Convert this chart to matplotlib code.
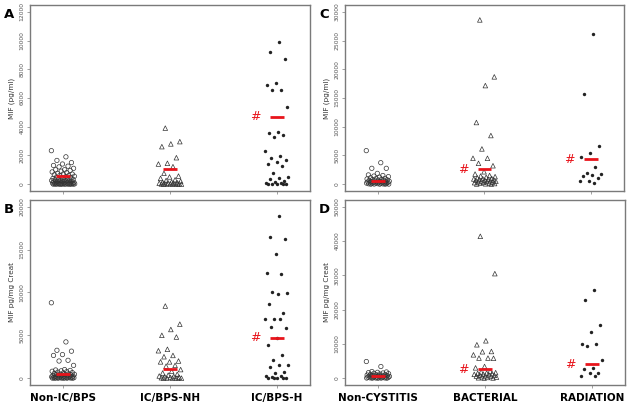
import matplotlib
matplotlib.use("Agg")
import matplotlib.pyplot as plt
import numpy as np

# ---- data (values per group) ----
top_groups = ["Non-IC/BPS", "IC/BPS-NH", "IC/BPS-H"]
bot_groups = ["Non-CYSTITIS", "BACTERIAL", "RADIATION"]

# A: MIF (pg/ml), IC/BPS cohorts
a_non = [2330, 1900, 1650, 1500, 1400, 1300, 1250, 1200, 1100, 1000, 1000, 950,
         900, 850, 800, 750, 700, 700, 650, 600, 600, 550, 500, 480, 450, 420,
         400, 380, 350, 330, 300, 300, 280, 250, 250, 220, 200, 200, 180, 160,
         150, 150, 130, 120, 100, 100, 90, 80, 70, 60, 50, 50, 40, 30, 20, 20,
         10, 10, 5, 5, 0, 0, 0, 0, 0, 0, 0, 0]
a_nh = [3900, 2960, 2800, 2610, 1840, 1450, 1400, 1215, 750, 560, 500, 400,
        300, 250, 200, 150, 120, 100, 80, 60, 50, 40, 30, 20, 10, 10, 0, 0,
        0, 0, 0]
a_h = [9900, 9180, 8700, 7030, 6890, 6560, 6540, 5390, 3660, 3570, 3430, 3250,
       2330, 1980, 1800, 1680, 1560, 1380, 1260, 750, 500, 450, 350, 250, 120,
       100, 60, 40, 20, 10, 0, 0]
a_bar = [560, 1050, 4710]

# B: MIF pg/mg Creat, IC/BPS cohorts
b_non = [8800, 4230, 3250, 3150, 2750, 2650, 2080, 2000, 1490, 1000, 950, 900,
         850, 800, 750, 700, 650, 600, 550, 500, 480, 450, 420, 400, 380, 350,
         320, 300, 280, 250, 230, 200, 180, 160, 150, 130, 120, 100, 90, 80, 70,
         60, 50, 40, 30, 20, 10, 5, 0, 0, 0, 0, 0]
b_nh = [8420, 6300, 5680, 5000, 4800, 3370, 3200, 2650, 2500, 2000, 1900, 1900,
        1490, 1400, 1000, 800, 600, 450, 350, 250, 200, 150, 100, 80, 50, 30, 10,
        0, 0, 0, 0]
b_h = [18950, 16440, 16240, 14490, 12260, 12140, 10030, 9910, 9790, 8690, 7630,
       6900, 6890, 6850, 5990, 5870, 4700, 3840, 2660, 2080, 1530, 1490, 1290,
       700, 600, 300, 200, 100, 50, 20, 0, 0, 0]
b_bar = [430, 1020, 4740]

# C: MIF (pg/ml), cystitis cohorts
c_non = [5830, 3730, 2750, 2750, 1870, 1600, 1500, 1400, 1300, 1200, 1100, 1000,
         950, 900, 850, 800, 750, 700, 650, 600, 550, 500, 480, 450, 420, 400,
         380, 350, 320, 300, 280, 250, 220, 200, 180, 150, 130, 100, 80, 60, 40,
         20, 10, 0, 0, 0]
c_bac = [28600, 18680, 17160, 10730, 8460, 6130, 4500, 4500, 3620, 3200, 2150,
         1750, 1500, 1400, 1300, 1200, 1100, 1000, 950, 900, 850, 800, 750, 700,
         650, 600, 550, 500, 450, 400, 350, 300, 250, 200, 150, 100, 50, 20, 0]
c_rad = [26210, 15710, 6650, 5370, 4680, 2920, 1980, 1800, 1580, 1500, 1100,
         600, 520, 230]
c_bar = [525, 2630, 4320]

# D: MIF pg/mg Creat, cystitis cohorts
d_non = [4850, 3390, 1930, 1800, 1700, 1600, 1500, 1400, 1300, 1200, 1100, 1000,
         950, 900, 850, 800, 750, 700, 650, 600, 550, 500, 450, 400, 350, 300,
         250, 200, 180, 150, 120, 100, 80, 60, 40, 20, 0, 0, 0]
d_bac = [41400, 30500, 10900, 9740, 7780, 7700, 6800, 5850, 5850, 5800, 3400,
         3000, 2000, 1800, 1600, 1500, 1400, 1300, 1200, 1100, 1000, 900, 800,
         700, 600, 500, 400, 300, 200, 100, 50, 0]
d_rad = [25600, 22900, 15580, 13450, 10030, 10030, 9440, 5150, 2920, 2800, 1460,
         1460, 670, 500]
d_bar = [500, 2630, 4090]

panels = [
    ("A", [a_non, a_nh, a_h], a_bar, "MIF (pg/ml)", 12000, 2000, [2], None),
    ("B", [b_non, b_nh, b_h], b_bar, "MIF pg/mg Creat", 20000, 5000, [2], top_groups),
    ("C", [c_non, c_bac, c_rad], c_bar, "MIF (pg/ml)", 30000, 5000, [1, 2], None),
    ("D", [d_non, d_bac, d_rad], d_bar, "MIF pg/mg Creat", 50000, 10000, [1, 2], bot_groups),
]

# axes rectangles in figure fraction (left, bottom, width, height)
rects = {
    "A": [0.0474, 0.533, 0.4423, 0.4548],
    "B": [0.0474, 0.0587, 0.4423, 0.4523],
    "C": [0.545, 0.533, 0.4408, 0.4548],
    "D": [0.545, 0.0587, 0.4424, 0.4523],
}

GREY = "#7a7a7a"
fig = plt.figure(figsize=(6.33, 4.09), dpi=100)

for letter, groups, bars, ylab, ymax, ystep, hashes, xlabels in panels:
    ax = fig.add_axes(rects[letter])
    for gi, vals in enumerate(groups):
        v = np.asarray(vals, float)
        k = np.arange(len(v))
        jit = ((k * 0.618034 + 0.3 * gi) % 1.0 - 0.5) * 0.22
        x = gi + 1 + jit
        if gi == 0:
            ax.scatter(x, v, s=10, marker="o", facecolors="none",
                       edgecolors="#333333", linewidths=0.5, zorder=2)
        elif gi == 1:
            ax.scatter(x, v, s=11, marker="^", facecolors="none",
                       edgecolors="#333333", linewidths=0.5, zorder=2)
        else:
            ax.scatter(x, v, s=6, marker="o", color="#222222",
                       linewidths=0, zorder=2)
        ax.plot([gi + 1 - 0.065, gi + 1 + 0.065], [bars[gi], bars[gi]],
                color="#e8141b", lw=2, solid_capstyle="butt", zorder=3)
        if gi in hashes:
            ax.text(gi + 1 - 0.2, bars[gi], "#", color="#e8141b", fontsize=9,
                    ha="center", va="center", zorder=3)

    ax.set_xlim(0.69, 3.31)
    ax.set_ylim(-0.04 * ymax, 1.04 * ymax)
    ax.set_yticks(np.arange(0, ymax + 1, ystep))
    ax.set_xticks([1, 2, 3])
    if xlabels is None:
        ax.set_xticklabels([])
    else:
        ax.set_xticklabels(xlabels, fontsize=7.5, fontweight="bold")
    ax.tick_params(axis="y", labelsize=4.3, labelcolor="#555555", length=2.5,
                   width=0.5, color=GREY, pad=1.5)
    ax.tick_params(axis="x", length=2.5, width=0.5, color=GREY, pad=3)
    for lab in ax.get_yticklabels():
        lab.set_rotation(90)
        lab.set_va("center")
    for s in ax.spines.values():
        s.set_color(GREY)
        s.set_linewidth(1.0)
    ax.set_ylabel(ylab, fontsize=5.2, color="#333333", labelpad=3)
    ax.text(-0.075, 0.95, letter, transform=ax.transAxes, fontsize=9.5,
            fontweight="bold", ha="center", va="center")

fig.savefig("out.png", dpi=100)
